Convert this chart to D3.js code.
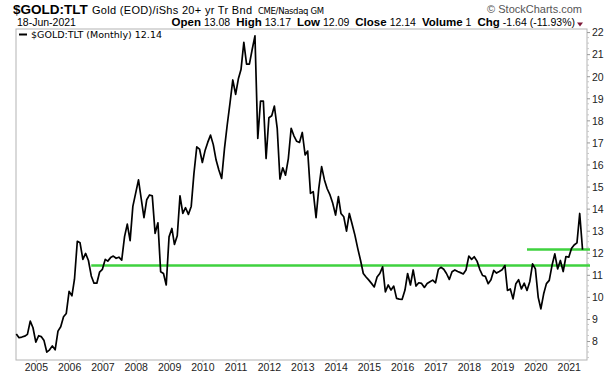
<!DOCTYPE html>
<html>
<head>
<meta charset="utf-8">
<script src="https://cdn.jsdelivr.net/npm/d3@7"></script>
<style>
  body { margin: 0; background: #fff; }
  svg { display: block; font-family: Arial, "Liberation Sans", sans-serif; }
</style>
</head>
<body>
<svg id="chart" width="608" height="386"></svg>
<script>
// monthly closes of $GOLD:TLT, first bar is June 2004
const firstMonth = new Date(2004, 5, 1);
const closes = [
  8.32, 8.15, 8.18, 8.22, 8.3, 8.9, 8.6,                                   // 2004 Jun-Dec
  7.95, 8.24, 8.2, 8.02, 7.5, 7.6, 7.78, 7.6, 8.45, 8.65, 9.1, 9.25,       // 2005
  10.25, 10.05, 10.8, 12.52, 12.45, 11.7, 11.97, 11.65, 10.95, 10.62, 10.62, 11.12, // 2006
  11.25, 11.7, 11.62, 11.78, 11.85, 11.75, 11.8, 11.67, 12.73, 13.3, 12.55, 14.1,  // 2007
  14.7, 15.3, 14.47, 13.59, 14.4, 14.62, 14.58, 12.88, 13.36, 11.14, 11.06, 10.54, // 2008
  12.72, 13.1, 12.38, 12.77, 14.58, 13.78, 14.04, 13.74, 14.1, 15.6, 16.8, 16.7,   // 2009
  16.09, 16.65, 17.0, 17.33, 16.9, 16.2, 15.75, 15.37, 16.73, 17.8, 18.8, 19.83,   // 2010
  19.18, 19.9, 20.3, 21.53, 20.55, 20.55, 21.2, 21.83, 17.18, 18.87, 18.87, 16.27, // 2011
  18.12, 18.21, 18.65, 17.64, 15.34, 15.85, 15.52, 16.27, 17.64, 17.3, 17.05, 17.0, // 2012
  17.45, 16.43, 16.61, 14.69, 14.77, 13.59, 14.92, 15.9, 15.3, 14.9, 14.62, 14.24, // 2013
  13.71, 14.54, 13.78, 13.63, 12.98, 13.78, 13.3, 12.8, 12.2, 11.67, 11.06, 10.9,  // 2014
  10.76, 10.6, 10.45, 10.9, 11.06, 11.36, 10.23, 10.54, 10.31, 10.49, 9.93, 9.9,   // 2015
  9.89, 10.31, 11.06, 10.54, 11.22, 10.49, 10.64, 10.61, 10.43, 10.61, 10.69, 10.76, // 2016
  10.64, 11.25, 11.34, 11.25, 11.06, 10.79, 11.14, 11.22, 11.15, 11.1, 11.04, 11.22, // 2017
  11.85, 11.7, 11.82, 11.62, 11.25, 10.97, 10.93, 10.6, 10.78, 11.2, 11.08, 11.15, // 2018
  11.23, 11.42, 10.29, 10.36, 9.91, 10.6, 10.78, 10.36, 10.62, 10.29, 10.7, 11.5,  // 2019
  11.27, 9.98, 9.46, 10.14, 10.6, 10.75, 11.42, 11.95, 11.27, 11.65, 11.15, 11.83, // 2020
  11.8, 12.2, 12.35, 12.45, 13.78, 12.14                                   // 2021 Jan-Jun
];
const yearTicks = [2005, 2006, 2007, 2008, 2009, 2010, 2011, 2012, 2013, 2014, 2015, 2016, 2017, 2018, 2019, 2020, 2021];
const priceTicks = [8, 9, 10, 11, 12, 13, 14, 15, 16, 17, 18, 19, 20, 21, 22];
// green horizontal lines drawn on the chart: start month and level
const levelLines = [
  {from: new Date(2006, 8, 1), value: 11.42},
  {from: new Date(2019, 9, 1), value: 12.15}
];
const quote = [["Open", "13.08"], ["High", "13.17"], ["Low", "12.09"], ["Close", "12.14"], ["Volume", "1"], ["Chg", "-1.64 (-11.93%)"]];

const svg = d3.select("#chart");
const plot = {left: 16, right: 587, top: 29, bottom: 360};

const series = closes.map((c, i) => ({date: d3.timeMonth.offset(firstMonth, i), close: c}));

const x = d3.scaleTime()
  .domain([firstMonth, new Date(2021, 6, 20)])
  .range([plot.left + 0.3, plot.right]);
const y = d3.scaleLinear()
  .domain([7.14, 22.14])
  .range([plot.bottom, plot.top]);

// header
svg.append("text").attr("x", 13).attr("y", 14)
  .style("font-weight", "bold").style("font-size", "13.5px").text("$GOLD:TLT");
svg.append("text").attr("x", 92).attr("y", 14)
  .style("font-size", "11px").attr("textLength", 160).attr("lengthAdjust", "spacing")
  .text("Gold (EOD)/iShs 20+ yr Tr Bnd");
svg.append("text").attr("x", 258).attr("y", 14)
  .style("font-family", "'DejaVu Sans', Verdana, sans-serif").style("font-size", "8.5px")
  .attr("textLength", 66).attr("lengthAdjust", "spacing")
  .text("CME/Nasdaq GM");
svg.append("text").attr("x", 582).attr("y", 13)
  .attr("text-anchor", "end").style("font-size", "11px").attr("fill", "#555")
  .text("\u00a9 StockCharts.com");
svg.append("text").attr("x", 17).attr("y", 26)
  .style("font-size", "10.5px").text("18-Jun-2021");

const info = svg.append("text").attr("x", 575).attr("y", 26)
  .attr("text-anchor", "end").style("font-size", "10.5px");
quote.forEach((q, i) => {
  info.append("tspan").attr("dx", i ? 6 : 0).style("font-weight", "bold").style("font-size", "11.5px").text(q[0]);
  info.append("tspan").attr("dx", 3).text(q[1]);
});
svg.append("path").attr("d", "M577,22.5 L583,22.5 L580,26.5 Z").attr("fill", "#7d1838");

// frame
svg.append("rect")
  .attr("x", plot.left).attr("y", plot.top)
  .attr("width", plot.right - plot.left).attr("height", plot.bottom - plot.top)
  .attr("fill", "none").attr("stroke", "#b4b4b4").attr("stroke-width", 1);

// right axis
const yAxis = svg.append("g")
  .attr("transform", "translate(" + plot.right + ",0)")
  .call(d3.axisRight(y).tickValues(priceTicks).tickSize(3).tickPadding(2));
yAxis.select(".domain").remove();
yAxis.selectAll("line").attr("stroke", "#999");
yAxis.selectAll("text").style("font-size", "10.5px").attr("fill", "#222").attr("dy", "0.36em");
svg.append("g").selectAll("line")
  .data(d3.range(7.25, 22.1, 0.25).filter(v => Math.abs(v - Math.round(v)) > 0.01))
  .join("line")
  .attr("x1", plot.right).attr("x2", plot.right + 2)
  .attr("y1", d => y(d)).attr("y2", d => y(d))
  .attr("stroke", "#c8c8c8");

// bottom axis
const xAxis = svg.append("g")
  .attr("transform", "translate(0," + plot.bottom + ")")
  .call(d3.axisBottom(x).tickValues(yearTicks.map(yr => new Date(yr, 0, 1)))
    .tickFormat(d3.timeFormat("%Y")).tickSize(2).tickPadding(2));
xAxis.select(".domain").remove();
xAxis.selectAll("line").attr("stroke", "#b4b4b4");
xAxis.selectAll("text").style("font-size", "10.5px").attr("fill", "#222");

// level lines
svg.append("g").selectAll("line")
  .data(levelLines)
  .join("line")
  .attr("x1", d => x(d.from)).attr("x2", plot.right + 3)
  .attr("y1", d => y(d.value)).attr("y2", d => y(d.value))
  .attr("stroke", "#3fd23f").attr("stroke-width", 2.6);

// price line
const line = d3.line().x(d => x(d.date)).y(d => y(d.close));
svg.append("path")
  .datum(series)
  .attr("d", line)
  .attr("fill", "none").attr("stroke", "#000").attr("stroke-width", 1.7)
  .attr("stroke-linejoin", "round");

// legend
svg.append("line").attr("x1", 19).attr("x2", 27).attr("y1", 34.5).attr("y2", 34.5)
  .attr("stroke", "#000").attr("stroke-width", 2);
svg.append("text").attr("x", 31).attr("y", 38)
  .style("font-family", "'DejaVu Sans', Verdana, sans-serif").style("font-size", "9.5px")
  .text("$GOLD:TLT (Monthly) " + closes[closes.length - 1].toFixed(2));
</script>
</body>
</html>
